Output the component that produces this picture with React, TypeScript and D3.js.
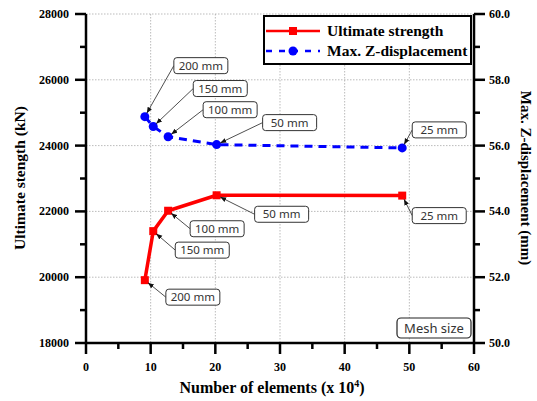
import React from "react";
import * as d3 from "d3";

// Mesh convergence study: element count vs. ultimate strength and max Z-displacement
const meshSizes = ["200 mm", "150 mm", "100 mm", "50 mm", "25 mm"];
const elementCounts = [9.1, 10.4, 12.7, 20.2, 48.9]; // x 10^4
const ultimateStrength = [19910, 21400, 22020, 22490, 22480]; // kN
const maxZDisplacement = [56.88, 56.58, 56.27, 56.03, 55.93]; // mm

const xTicks = [0, 10, 20, 30, 40, 50, 60];
const yLeftTicks = [18000, 20000, 22000, 24000, 26000, 28000];
const yRightTicks = [50, 52, 54, 56, 58, 60];

// Callout box offsets (pixels from the data point to the box's top-left corner)
const strengthCalloutOffsets: [number, number][] = [
  [21, 9], [22, 11], [22, 10], [38, 11], [10, 12],
];
const displacementCalloutOffsets: [number, number][] = [
  [29, -59], [40, -46], [35, -35], [46, -30], [10, -26],
];

const W = 537;
const H = 401;
const plot = { left: 86, right: 474, top: 14, bottom: 343 };

const serif = "'Liberation Serif', 'Times New Roman', serif";
const sans = "'Noto Sans', 'DejaVu Sans', sans-serif";

export default function App() {
  const x = d3.scaleLinear().domain([0, 60]).range([plot.left, plot.right]);
  const yL = d3.scaleLinear().domain([18000, 28000]).range([plot.bottom, plot.top]);
  const yR = d3.scaleLinear().domain([50, 60]).range([plot.bottom, plot.top]);

  const strengthPts = elementCounts.map((e, i) => [x(e), yL(ultimateStrength[i])] as [number, number]);
  const dispPts = elementCounts.map((e, i) => [x(e), yR(maxZDisplacement[i])] as [number, number]);
  const line = d3.line<[number, number]>();

  const xMinor = d3.range(5, 60, 10);
  const yLMinor = d3.range(19000, 28000, 2000);
  const yRMinor = d3.range(51, 60, 2);

  const boxW = 54;
  const boxH = 16;

  const callout = (pt: [number, number], off: [number, number], label: string, key: string) => {
    const bx = pt[0] + off[0];
    const by = pt[1] + off[1];
    const sx = bx;
    const sy = by + boxH / 2;
    const dx = sx - pt[0];
    const dy = sy - pt[1];
    const len = Math.hypot(dx, dy);
    const ex = pt[0] + (dx / len) * 4;
    const ey = pt[1] + (dy / len) * 4;
    return (
      <g key={key}>
        <line x1={sx} y1={sy} x2={ex} y2={ey} stroke="#222" strokeWidth={0.8} markerEnd="url(#arrow)" />
        <rect x={bx} y={by} width={boxW} height={boxH} rx={3} fill="white" stroke="#333" strokeWidth={1} />
        <text x={bx + boxW / 2} y={by + boxH / 2 + 4} textAnchor="middle" fontFamily={sans} fontSize={11.5} fill="#333">
          {label}
        </text>
      </g>
    );
  };

  return (
    <svg width={W} height={H} style={{ position: "absolute", left: 0, top: 0, background: "white" }}>
      <defs>
        <marker id="arrow" viewBox="0 0 10 10" refX="10" refY="5" markerWidth="6" markerHeight="6" orient="auto" markerUnits="userSpaceOnUse">
          <path d="M0,1 L10,5 L0,9 z" fill="#111" />
        </marker>
      </defs>

      {/* grid */}
      <g stroke="#aaa" strokeWidth={0.8} strokeDasharray="1.5,1.5">
        {xTicks.filter((t) => t > 0 && t < 60).map((t) => (
          <line key={"gx" + t} x1={x(t)} x2={x(t)} y1={plot.top} y2={plot.bottom} />
        ))}
        {yLeftTicks.filter((t) => t > 18000).map((t) => (
          <line key={"gy" + t} x1={plot.left} x2={plot.right} y1={yL(t)} y2={yL(t)} />
        ))}
      </g>

      {/* series: ultimate strength */}
      <path d={line(strengthPts) || ""} fill="none" stroke="#ff0000" strokeWidth={3.5} strokeLinejoin="round" />
      {strengthPts.map((p, i) => (
        <rect key={"sq" + i} x={p[0] - 4} y={p[1] - 4} width={8} height={8} fill="#ff0000" />
      ))}

      {/* series: max Z-displacement */}
      <path d={line(dispPts) || ""} fill="none" stroke="#0000ff" strokeWidth={3} strokeDasharray="8,6" />
      {dispPts.map((p, i) => (
        <circle key={"ci" + i} cx={p[0]} cy={p[1]} r={4.5} fill="#0000ff" />
      ))}

      {/* callouts */}
      {strengthPts.map((p, i) => callout(p, strengthCalloutOffsets[i], meshSizes[i], "cs" + i))}
      {dispPts.map((p, i) => callout(p, displacementCalloutOffsets[i], meshSizes[i], "cd" + i))}

      {/* mesh size tag */}
      <rect x={397} y={318} width={74} height={20} rx={4} fill="white" stroke="#222" strokeWidth={1.2} />
      <text x={434} y={333} textAnchor="middle" fontFamily={sans} fontSize={13} fill="#333">Mesh size</text>

      {/* axes */}
      <g stroke="black" strokeWidth={2.5}>
        <line x1={plot.left} x2={plot.left} y1={plot.top} y2={plot.bottom + 1} />
        <line x1={plot.right} x2={plot.right} y1={plot.top} y2={plot.bottom + 1} />
        <line x1={plot.left - 1} x2={plot.right + 1} y1={plot.bottom} y2={plot.bottom} />
        {xTicks.map((t) => (
          <line key={"xt" + t} x1={x(t)} x2={x(t)} y1={plot.bottom} y2={plot.bottom + 11} />
        ))}
        {xMinor.map((t) => (
          <line key={"xm" + t} x1={x(t)} x2={x(t)} y1={plot.bottom} y2={plot.bottom + 6} />
        ))}
        {yLeftTicks.map((t) => (
          <line key={"lt" + t} x1={plot.left - 11} x2={plot.left} y1={yL(t)} y2={yL(t)} />
        ))}
        {yLMinor.map((t) => (
          <line key={"lm" + t} x1={plot.left - 6} x2={plot.left} y1={yL(t)} y2={yL(t)} />
        ))}
        {yRightTicks.map((t) => (
          <line key={"rt" + t} x1={plot.right} x2={plot.right + 11} y1={yR(t)} y2={yR(t)} />
        ))}
        {yRMinor.map((t) => (
          <line key={"rm" + t} x1={plot.right} x2={plot.right + 6} y1={yR(t)} y2={yR(t)} />
        ))}
      </g>

      {/* tick labels */}
      <g fontFamily={serif} fontWeight="bold" fontSize={12} fill="black">
        {xTicks.map((t) => (
          <text key={"xl" + t} x={x(t)} y={371} textAnchor="middle">{t}</text>
        ))}
        {yLeftTicks.map((t) => (
          <text key={"ll" + t} x={69} y={yL(t) + 4} textAnchor="end">{t}</text>
        ))}
        {yRightTicks.map((t) => (
          <text key={"rl" + t} x={489} y={yR(t) + 4} textAnchor="start">{t.toFixed(1)}</text>
        ))}
      </g>

      {/* axis titles */}
      <text x={272} y={393} textAnchor="middle" fontFamily={serif} fontWeight="bold" fontSize={16}>
        Number of elements (x 10<tspan dy={-6} fontSize={10}>4</tspan><tspan dy={6}>)</tspan>
      </text>
      <text transform={`translate(25,${178}) rotate(-90)`} textAnchor="middle" fontFamily={serif} fontWeight="bold" fontSize={15.5}>
        Ultimate stength (kN)
      </text>
      <text transform={`translate(521,${178}) rotate(90)`} textAnchor="middle" fontFamily={serif} fontWeight="bold" fontSize={15}>
        Max. Z-displacement (mm)
      </text>

      {/* legend */}
      <rect x={264} y={16} width={207} height={48} fill="white" stroke="black" strokeWidth={2} />
      <line x1={266} x2={320} y1={31} y2={31} stroke="#ff0000" strokeWidth={2.5} />
      <rect x={289} y={27} width={8} height={8} fill="#ff0000" />
      <text x={327} y={36} fontFamily={serif} fontWeight="bold" fontSize={15.5}>Ultimate strength</text>
      <line x1={266} x2={320} y1={51} y2={51} stroke="#0000ff" strokeWidth={2.5} strokeDasharray="6,7" />
      <circle cx={293} cy={51} r={4.5} fill="#0000ff" />
      <text x={327} y={56} fontFamily={serif} fontWeight="bold" fontSize={15.5}>Max. Z-displacement</text>
    </svg>
  );
}
